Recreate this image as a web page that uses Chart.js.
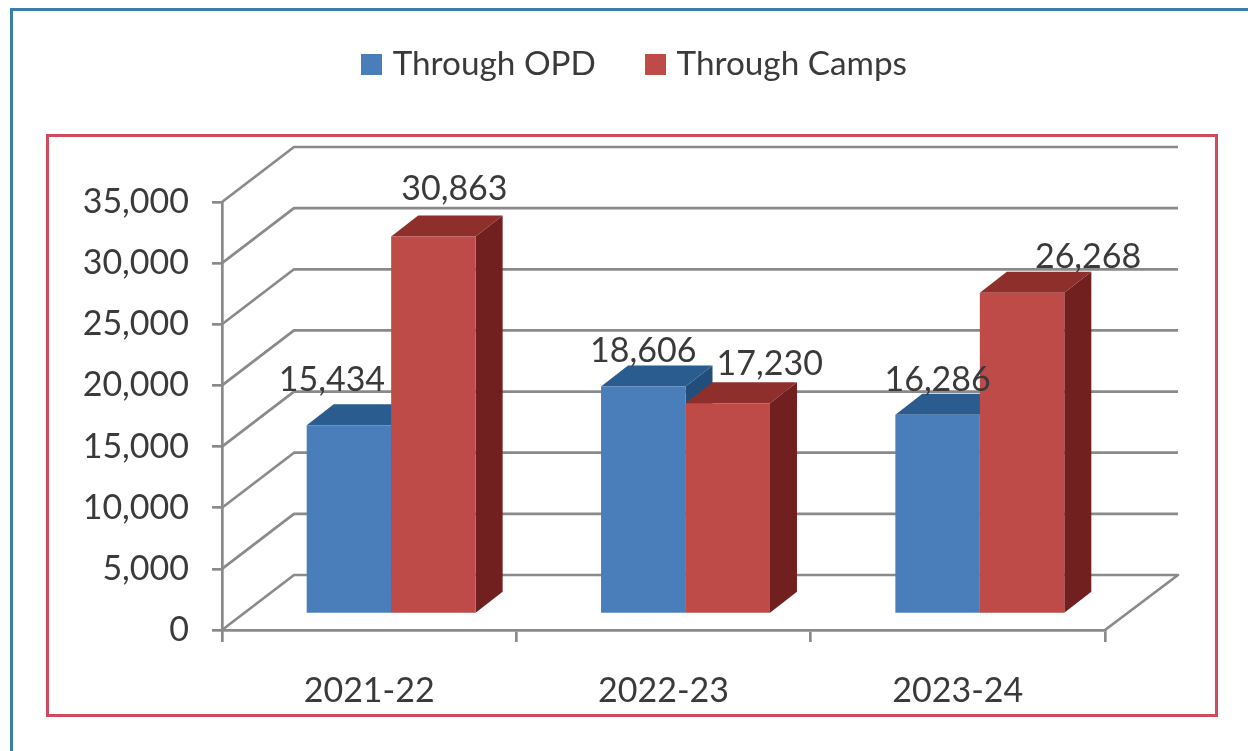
<!DOCTYPE html>
<html>
<head>
<meta charset="utf-8">
<style>
html,body{margin:0;padding:0;background:#fff;width:1248px;height:751px;overflow:hidden}
#outer{position:absolute;left:10px;top:8px;width:1300px;height:800px;border:3px solid #3b7ca8}
#inner{position:absolute;left:46px;top:134px;width:1166px;height:577px;border:3px solid #cf4a5f}
canvas{position:absolute;left:0;top:0}
</style>
<script src="https://cdn.jsdelivr.net/npm/chart.js@4"></script>
</head>
<body>
<div id="outer"></div>
<div id="inner"></div>
<canvas id="c" width="1248" height="751"></canvas>
<script>
const categories = ['2021-22', '2022-23', '2023-24'];
const throughOPD = [15434, 18606, 16286];
const throughCamps = [30863, 17230, 26268];
const seriesNames = ['Through OPD', 'Through Camps'];

// styling
const FONT = 'Lato';
const TEXT = '#3a3a3a';
const GRID = '#8a8a8a';
const FACE = [
  {front:'#4a7ebb', top:'#2b5c8f', side:'#234e7c'},
  {front:'#be4b48', top:'#8e2f2c', side:'#72201f'}
];
const WALL = {dx:72, dy:-55};
const BAR_SHIFT = {dx:22, dy:-16};
const BAR_DEPTH = {dx:27, dy:-21};
// label nudges relative to each bar's top centre, [dataset][category]
const LABEL_NUDGE = [
  [[-17,-45],[0,-35],[0,-35]],
  [[21,-48],[42,-39],[66,-36]]
];

function swatch(color){
  const s = document.createElement('canvas');
  s.width = 21; s.height = 21;
  const g = s.getContext('2d');
  g.fillStyle = color;
  g.fillRect(0,0,21,21);
  return s;
}

const shape3d = {
  id:'shape3d',
  beforeInit(chart){
    const lg = chart.legend, fit = lg.fit;
    lg.fit = function(){ fit.call(lg); lg.height = 202; };
  },
  afterLayout(chart){
    chart.legend.left = 0;
    chart.legend.right = 1275;
    chart.legend.top = -8;
  },
  beforeDatasetsDraw(chart){
    const {ctx, scales:{y}, chartArea:a} = chart;
    ctx.save();
    ctx.strokeStyle = GRID;
    ctx.lineWidth = 2.7;
    ctx.lineJoin = 'round';
    y.ticks.forEach(t=>{
      const py = y.getPixelForValue(t.value);
      ctx.beginPath();
      ctx.moveTo(a.left, py);
      ctx.lineTo(a.left+WALL.dx, py+WALL.dy);
      ctx.lineTo(a.right+WALL.dx+1, py+WALL.dy);
      if (t.value === 0) ctx.lineTo(a.right, py);
      ctx.stroke();
    });
    ctx.restore();

    ctx.save();
    ctx.translate(BAR_SHIFT.dx, BAR_SHIFT.dy);
    const {dx, dy} = BAR_DEPTH;
    [0,1].forEach(ds=>{
      chart.getDatasetMeta(ds).data.forEach(bar=>{
        const {x, y:top, base, width} = bar.getProps(['x','y','base','width'], true);
        const l = x-width/2, r = x+width/2;
        ctx.fillStyle = FACE[ds].side;
        ctx.beginPath();
        ctx.moveTo(r, top); ctx.lineTo(r+dx, top+dy); ctx.lineTo(r+dx, base+dy); ctx.lineTo(r, base);
        ctx.closePath(); ctx.fill();
        ctx.fillStyle = FACE[ds].top;
        ctx.beginPath();
        ctx.moveTo(l, top); ctx.lineTo(l+dx, top+dy); ctx.lineTo(r+dx, top+dy); ctx.lineTo(r, top);
        ctx.closePath(); ctx.fill();
      });
    });
  },
  afterDatasetsDraw(chart){
    const ctx = chart.ctx;
    ctx.restore();
    ctx.save();
    ctx.font = '34px '+FONT;
    ctx.fillStyle = TEXT;
    ctx.textAlign = 'center';
    ctx.textBaseline = 'middle';
    [0,1].forEach(ds=>{
      chart.getDatasetMeta(ds).data.forEach((bar,i)=>{
        const v = chart.data.datasets[ds].data[i];
        const n = LABEL_NUDGE[ds][i];
        ctx.fillText(v.toLocaleString('en-US'), bar.x+BAR_SHIFT.dx+n[0], bar.y+BAR_SHIFT.dy+n[1]);
      });
    });
    ctx.restore();
  }
};

new Chart(document.getElementById('c'), {
  type:'bar',
  data:{
    labels:categories,
    datasets:[
      {label:seriesNames[0], data:throughOPD, backgroundColor:FACE[0].front, borderWidth:0, categoryPercentage:0.574, barPercentage:1},
      {label:seriesNames[1], data:throughCamps, backgroundColor:FACE[1].front, borderWidth:0, categoryPercentage:0.574, barPercentage:1}
    ]
  },
  options:{
    responsive:false,
    animation:false,
    layout:{padding:{left:0,right:143,top:0,bottom:0}},
    plugins:{
      tooltip:{enabled:false},
      title:{display:false},
      legend:{
        display:true,
        position:'top',
        labels:{
          usePointStyle:true,
          pointStyleWidth:8,
          padding:56,
          color:TEXT,
          font:{family:FONT,size:33.3},
          generateLabels(chart){
            return Chart.defaults.plugins.legend.labels.generateLabels(chart).map((it,i)=>{
              it.pointStyle = swatch(FACE[i].front);
              return it;
            });
          }
        }
      }
    },
    scales:{
      x:{
        grid:{drawOnChartArea:false,drawTicks:true,tickLength:12,color:GRID,lineWidth:2.7},
        border:{color:GRID,width:2.7},
        ticks:{color:TEXT,padding:29,maxRotation:0,font:{family:FONT,size:34}},
        afterFit(s){s.height=121;}
      },
      y:{
        min:0,max:35000,
        grid:{drawOnChartArea:false,drawTicks:true,tickLength:10,color:GRID,lineWidth:2.7},
        border:{color:GRID,width:2.7},
        ticks:{stepSize:5000,color:TEXT,padding:23,font:{family:FONT,size:34}},
        afterFit(s){s.width=222;}
      }
    }
  },
  plugins:[shape3d]
});
</script>
</body>
</html>
